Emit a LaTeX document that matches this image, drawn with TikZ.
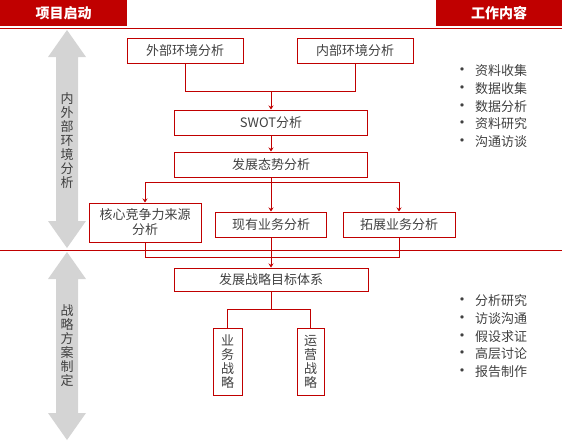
\documentclass[tikz,border=0pt]{standalone}
\usepackage{fontspec}
\setmainfont{Noto Sans CJK SC}
\usetikzlibrary{arrows.meta}
\definecolor{hdred}{HTML}{C00000}
\definecolor{txtgray}{HTML}{404040}
\definecolor{arrgray}{HTML}{D4D4D4}
\tikzset{
  box/.style={draw=hdred, line width=1pt, rectangle, inner sep=0pt, text=txtgray,
    font=\fontsize{13}{15}\selectfont, align=center},
  hdr/.style={fill=hdred, text=white, inner sep=0pt, minimum height=26pt,
    font=\fontsize{14}{16}\selectfont\bfseries},
  conn/.style={draw=hdred, line width=1pt},
  tip/.style={-{Stealth[length=4pt,width=5pt]}},
  vtxt/.style={text=txtgray, font=\fontsize{13}{14}\selectfont, align=center, inner sep=0pt},
  lst/.style={text=txtgray, font=\fontsize{13}{17.8}\selectfont, inner sep=0pt, anchor=west}
}
\newcommand{\bul}{\makebox[5pt][c]{\fontsize{16}{16}\selectfont•}}
\begin{document}
\begin{tikzpicture}[x=1pt,y=-1pt]
    \useasboundingbox (0,0) rectangle (562,442);

    %headers
    \node[hdr, minimum width=127pt] (start) at (63.5,13) {项目启动};
    \node[hdr, minimum width=126pt] (work) at (499,13) {工作内容};
    \draw[hdred, line width=1pt] (0,28) -- (562,28);
    \draw[hdred, line width=1pt] (0,250) -- (562,250);

    %side arrows
    \fill[arrgray] (67,30) -- (86,57) -- (78,57) -- (78,221) -- (86,221) -- (67,248)
        -- (48,221) -- (56,221) -- (56,57) -- (48,57) -- cycle;
    \fill[arrgray] (67,252) -- (86,279) -- (78,279) -- (78,413) -- (86,413) -- (67,440)
        -- (48,413) -- (56,413) -- (56,279) -- (48,279) -- cycle;
    \node[vtxt] (envtxt) at (67,141) {内\\外\\部\\环\\境\\分\\析};
    \node[vtxt] (plantxt) at (67,346) {战\\略\\方\\案\\制\\定};

    %boxes
    \node[box, minimum width=116pt, minimum height=25pt] (ext) at (185,50.5) {外部环境分析};
    \node[box, minimum width=116pt, minimum height=25pt] (int) at (355,50.5) {内部环境分析};
    \node[box, minimum width=193pt, minimum height=25pt] (swot) at (271,122.5) {SWOT分析};
    \node[box, minimum width=193pt, minimum height=25pt] (trend) at (271,164.5) {发展态势分析};
    \node[box, minimum width=112pt, minimum height=39pt] (core) at (145,222.5) {核心竞争力来源\\分析};
    \node[box, minimum width=111pt, minimum height=25pt] (cur) at (271,224.5) {现有业务分析};
    \node[box, minimum width=112pt, minimum height=25pt] (expd) at (399,224.5) {拓展业务分析};
    \node[box, minimum width=194pt, minimum height=23pt] (goal) at (271,279.5) {发展战略目标体系};
    \node[box, minimum width=29pt, minimum height=67pt, font=\fontsize{13}{14}\selectfont] (biz) at (227.5,361.5) {业\\务\\战\\略};
    \node[box, minimum width=27pt, minimum height=67pt, font=\fontsize{13}{14}\selectfont] (ops) at (310.5,361.5) {运\\营\\战\\略};

    %connectors
    \coordinate (j1) at (271,91);
    \coordinate (j2) at (271,182);
    \coordinate (j3) at (271,257);
    \coordinate (j4) at (271,309);
    \draw[conn] (ext.south) |- (j1);
    \draw[conn] (int.south) |- (j1);
    \draw[conn, tip] (j1) -- (swot.north);
    \draw[conn, tip] (swot) -- (trend);
    \draw[conn, tip] (trend) -- (cur);
    \draw[conn, tip] (j2) -| (core.north);
    \draw[conn, tip] (j2) -| (expd.north);
    \draw[conn] (core.south) |- (j3);
    \draw[conn] (expd.south) |- (j3);
    \draw[conn, tip] (cur) -- (goal);
    \draw[conn] (goal.south) -- (j4);
    \draw[conn] (j4) -| (biz.north);
    \draw[conn] (j4) -| (ops.north);

    %work lists
    \node[lst] (list1) at (459.5,107.5) {\begin{tabular}{@{}l@{\hspace{10.5pt}}l@{}}
        \bul & 资料收集\\ \bul & 数据收集\\ \bul & 数据分析\\
        \bul & 资料研究\\ \bul & 沟通访谈\end{tabular}};
    \node[lst] (list2) at (459.5,337.5) {\begin{tabular}{@{}l@{\hspace{10.5pt}}l@{}}
        \bul & 分析研究\\ \bul & 访谈沟通\\ \bul & 假设求证\\
        \bul & 高层讨论\\ \bul & 报告制作\end{tabular}};
\end{tikzpicture}
\end{document}
